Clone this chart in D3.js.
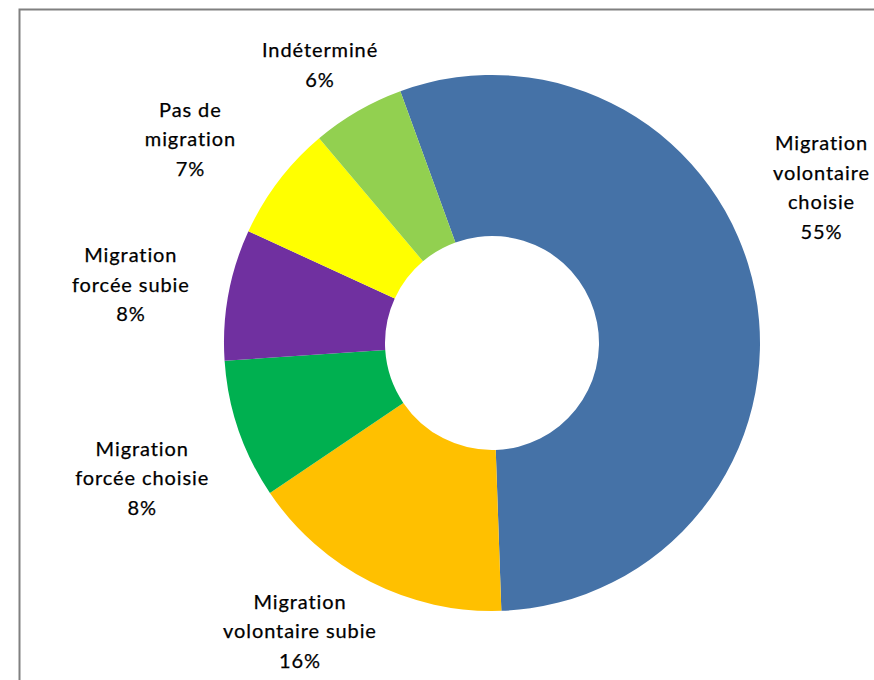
<!DOCTYPE html>
<html>
<head>
<meta charset="utf-8">
<script src="https://cdnjs.cloudflare.com/ajax/libs/d3/7.8.5/d3.min.js"></script>
<style>
  html, body { margin: 0; padding: 0; background: #fff; }
  svg { display: block; }
  .lbl {
    font-family: Lato, "Liberation Sans", sans-serif;
    font-size: 20px;
    letter-spacing: 0.9px;
    font-variant-ligatures: none;
    fill: #000;
    stroke: #000;
    stroke-width: 0.25px;
  }
</style>
</head>
<body>
<div id="chart"></div>
<script>
var categories = [
  ["Migration", "volontaire", "choisie"],
  ["Migration", "volontaire subie"],
  ["Migration", "forcée choisie"],
  ["Migration", "forcée subie"],
  ["Pas de", "migration"],
  ["Indéterminé"]
];
var values = [55.0, 16.1, 8.4, 7.9, 7.0, 5.6];
var colors = ["#4572A7", "#FFC000", "#00B050", "#7030A0", "#FFFF00", "#92D050"];

// labels were hand-placed in the original: pixel nudge from the arc centroid
var labelNudge = [[-19, -88], [-31, -28], [-14, 20], [-12, 6], [-19, 11], [6, 29]];

var W = 874, H = 680,
    CX = 492, CY = 343,
    R_OUT = 268, R_IN = 107,
    LABEL_R = 355, LINE_H = 29.5;

var svg = d3.select("#chart").append("svg")
  .attr("width", W)
  .attr("height", H);

// frame (runs off the right/bottom like the original screenshot)
svg.append("rect")
  .attr("x", 19.5).attr("y", 9.5)
  .attr("width", 1000).attr("height", 1000)
  .attr("fill", "none")
  .attr("stroke", "#808080")
  .attr("stroke-width", 2);

var pie = d3.pie()
  .sort(null)
  .value(function(d) { return d; })
  .startAngle(-20 * Math.PI / 180)
  .endAngle(340 * Math.PI / 180);

var arcs = pie(values);
var total = d3.sum(values);

var arc = d3.arc().innerRadius(R_IN).outerRadius(R_OUT);
var labelArc = d3.arc().innerRadius(LABEL_R).outerRadius(LABEL_R);

var g = svg.append("g").attr("transform", "translate(" + CX + "," + CY + ")");

g.selectAll("path.slice")
  .data(arcs)
  .enter().append("path")
  .attr("class", "slice")
  .attr("d", arc)
  .attr("fill", function(d, i) { return colors[i]; });

// labels
var labels = g.selectAll("text.lbl")
  .data(arcs)
  .enter().append("text")
  .attr("class", "lbl")
  .attr("text-anchor", "middle")
  .attr("transform", function(d, i) {
    var c = labelArc.centroid(d);
    return "translate(" + (c[0] + labelNudge[i][0]) + "," + (c[1] + labelNudge[i][1]) + ")";
  });

labels.each(function(d, i) {
  var lines = categories[i].concat([Math.round(d.value / total * 100) + "%"]),
      y0 = -(lines.length - 1) * LINE_H / 2 + 7;
  d3.select(this).selectAll("tspan")
    .data(lines)
    .enter().append("tspan")
    .attr("x", 0)
    .attr("y", function(l, j) { return y0 + j * LINE_H; })
    .text(function(l) { return l; });
});
</script>
</body>
</html>
